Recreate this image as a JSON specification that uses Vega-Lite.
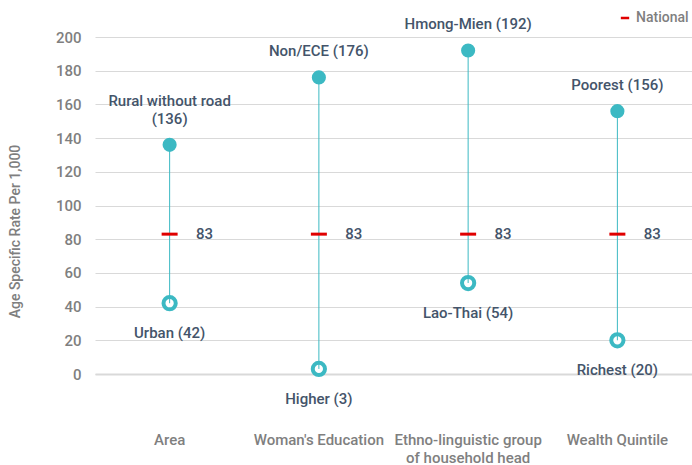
{
  "$schema": "https://vega.github.io/schema/vega-lite/v6.json",
  "width": 597,
  "height": 337,
  "autosize": "none",
  "padding": {"left": 95, "top": 37, "right": 0, "bottom": 91},
  "background": "white",
  "config": {
    "view": {"stroke": null},
    "font": "Roboto",
    "text": {"font": "Roboto"},
    "axisY": {
      "tickCount": 10,
      "labelOverlap": false,
      "labelFontSize": 15,
      "labelFontWeight": 500,
      "labelColor": "#7f7f7f",
      "labelPadding": 14,
      "ticks": false,
      "domain": false,
      "gridColor": "#d9d9d9",
      "gridWidth": 1,
      "titleFontSize": 14,
      "titleFontWeight": 500,
      "titleColor": "#7f7f7f",
      "titleX": -80,
      "titleY": 194,
      "titleAlign": "center",
      "titleBaseline": "middle",
      "titleAngle": -90
    }
  },
  "data": {
    "values": [
      {"category": "Area", "high": 136, "low": 42, "national": 83, "highLabelTop": "Rural without road", "highLabel": "(136)", "lowLabel": "Urban (42)"},
      {"category": "Woman's Education", "high": 176, "low": 3, "national": 83, "highLabelTop": "", "highLabel": "Non/ECE (176)", "lowLabel": "Higher (3)"},
      {"category": "Ethno-linguistic group of household head", "high": 192, "low": 54, "national": 83, "highLabelTop": "", "highLabel": "Hmong-Mien (192)", "lowLabel": "Lao-Thai (54)"},
      {"category": "Wealth Quintile", "high": 156, "low": 20, "national": 83, "highLabelTop": "", "highLabel": "Poorest (156)", "lowLabel": "Richest (20)"}
    ]
  },
  "encoding": {
    "x": {
      "field": "category",
      "type": "nominal",
      "sort": null,
      "scale": {"paddingInner": 0, "paddingOuter": 0},
      "axis": {
        "title": null,
        "labelAngle": 0,
        "labelPadding": 58,
        "labelFontSize": 15,
        "labelFontWeight": 500,
        "labelColor": "#7f7f7f",
        "labelLineHeight": 18,
        "ticks": false,
        "domainColor": "#d9d9d9",
        "domainWidth": 2,
        "labelExpr": "datum.value == 'Ethno-linguistic group of household head' ? ['Ethno-linguistic group', 'of household head'] : datum.value"
      }
    }
  },
  "layer": [
    {
      "mark": {"type": "circle", "size": 150, "fill": "white", "stroke": "#3cb9c3", "strokeWidth": 4, "opacity": 1},
      "encoding": {
        "y": {
          "field": "low",
          "type": "quantitative",
          "title": "Age Specific Rate Per 1,000",
          "scale": {"domain": [0, 200], "nice": false}
        }
      }
    },
    {
      "mark": {"type": "circle", "size": 200, "color": "#3cb9c3", "opacity": 1},
      "encoding": {"y": {"field": "high", "type": "quantitative", "title": "Age Specific Rate Per 1,000"}}
    },
    {
      "mark": {"type": "rule", "color": "#3cb9c3", "strokeWidth": 1},
      "encoding": {
        "y": {"field": "low", "type": "quantitative", "title": "Age Specific Rate Per 1,000"},
        "y2": {"field": "high"}
      }
    },
    {
      "mark": {"type": "tick", "orient": "horizontal", "size": 16, "thickness": 3, "opacity": 1},
      "encoding": {
        "y": {"field": "national", "type": "quantitative", "title": "Age Specific Rate Per 1,000"},
        "color": {
          "datum": "National",
          "scale": {"range": ["#e00000"]},
          "legend": {
            "title": null,
            "orient": "none",
            "legendX": 523,
            "legendY": -26,
            "symbolType": "M-1,-0.3H1V0.3H-1Z",
            "symbolSize": 70,
            "symbolFillColor": "#e00000",
            "symbolStrokeColor": "#e00000",
            "symbolStrokeWidth": 0,
            "symbolOpacity": 1,
            "labelFontSize": 14,
            "labelFontWeight": 500,
            "labelColor": "#7f7f7f",
            "labelOffset": 4
          }
        }
      }
    },
    {
      "mark": {"type": "text", "dx": 35, "align": "center", "baseline": "middle", "fontSize": 15, "fontWeight": 500, "color": "#44546a"},
      "encoding": {
        "y": {"field": "national", "type": "quantitative", "title": "Age Specific Rate Per 1,000"},
        "text": {"field": "national"}
      }
    },
    {
      "mark": {"type": "text", "dy": -18, "align": "center", "baseline": "bottom", "fontSize": 15, "fontWeight": 500, "color": "#44546a"},
      "encoding": {
        "y": {"field": "high", "type": "quantitative", "title": "Age Specific Rate Per 1,000"},
        "text": {"field": "highLabel"}
      }
    },
    {
      "mark": {"type": "text", "dy": -36, "align": "center", "baseline": "bottom", "fontSize": 15, "fontWeight": 500, "color": "#44546a"},
      "encoding": {
        "y": {"field": "high", "type": "quantitative", "title": "Age Specific Rate Per 1,000"},
        "text": {"field": "highLabelTop"}
      }
    },
    {
      "mark": {"type": "text", "dy": 23, "align": "center", "baseline": "top", "fontSize": 15, "fontWeight": 500, "color": "#44546a"},
      "encoding": {
        "y": {"field": "low", "type": "quantitative", "title": "Age Specific Rate Per 1,000"},
        "text": {"field": "lowLabel"}
      }
    }
  ]
}
